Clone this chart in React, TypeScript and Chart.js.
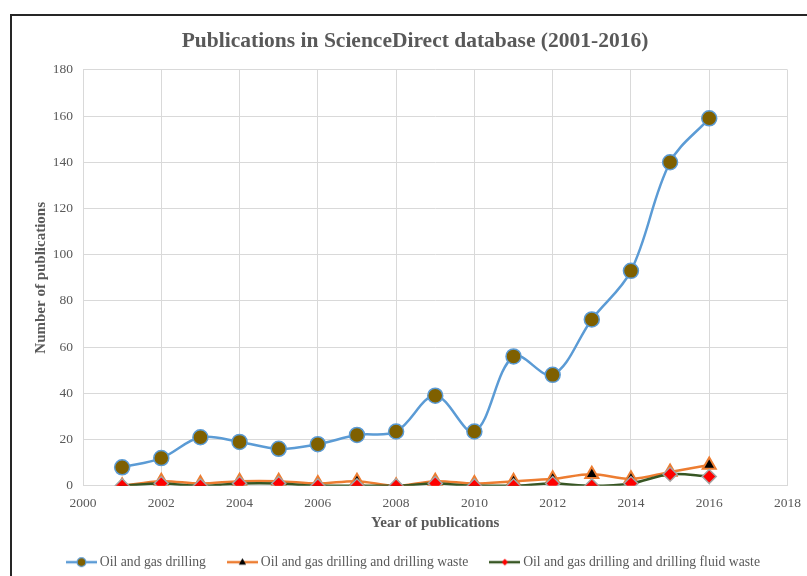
import React, { useEffect, useRef } from "react";
import { Chart, registerables } from "chart.js";

Chart.register(...registerables);

const years = [2001, 2002, 2003, 2004, 2005, 2006, 2007, 2008, 2009, 2010, 2011, 2012, 2013, 2014, 2015, 2016];
const oilGasDrilling = [8, 12, 21, 19, 16, 18, 22, 23.5, 39, 23.5, 56, 48, 72, 93, 140, 159];
const drillingWaste = [0, 2, 1, 2, 2, 1, 2, 0, 2, 1, 2, 3, 5, 3, 6, 9];
const drillingFluidWaste = [0, 1, 0, 1, 1, 0, 0, 0, 1, 0, 0, 1, 0, 1, 5, 4];
const seriesNames = [
  "Oil and gas drilling",
  "Oil and gas drilling and drilling waste",
  "Oil and gas drilling and drilling fluid waste",
];
const chartTitle = "Publications in ScienceDirect database (2001-2016)";
const xTitle = "Year of publications";
const yTitle = "Number of publications";
const xMin = 2000;
const xMax = 2018;
const xStep = 2;
const yMin = 0;
const yMax = 180;
const yStep = 20;

const FONT = "'Liberation Serif', 'Times New Roman', serif";
const TEXT = "#595959";
const BLUE = "#5b9bd5";
const ORANGE = "#ed7d31";
const GREEN = "#375623";

function makeIcon(kind: number): HTMLCanvasElement {
  const c = document.createElement("canvas");
  c.width = 31;
  c.height = 14;
  const ctx = c.getContext("2d")!;
  const cy = 7;
  const cx = 15.5;
  ctx.lineWidth = 2.5;
  ctx.strokeStyle = kind === 0 ? BLUE : kind === 1 ? ORANGE : GREEN;
  ctx.beginPath();
  ctx.moveTo(0, cy);
  ctx.lineTo(31, cy);
  ctx.stroke();
  if (kind === 0) {
    ctx.beginPath();
    ctx.arc(cx, cy, 4.4, 0, Math.PI * 2);
    ctx.fillStyle = "#7f6000";
    ctx.fill();
    ctx.lineWidth = 1.2;
    ctx.strokeStyle = BLUE;
    ctx.stroke();
  } else if (kind === 1) {
    ctx.beginPath();
    ctx.moveTo(cx, cy - 4);
    ctx.lineTo(cx + 3.6, cy + 2.5);
    ctx.lineTo(cx - 3.6, cy + 2.5);
    ctx.closePath();
    ctx.fillStyle = "#000";
    ctx.fill();
  } else {
    ctx.beginPath();
    ctx.moveTo(cx, cy - 3.5);
    ctx.lineTo(cx + 3, cy);
    ctx.lineTo(cx, cy + 3.5);
    ctx.lineTo(cx - 3, cy);
    ctx.closePath();
    ctx.fillStyle = "#ff0000";
    ctx.fill();
  }
  return c;
}

export default function App() {
  const ref = useRef<HTMLCanvasElement>(null);

  useEffect(() => {
    const canvas = ref.current;
    if (!canvas) return;
    const icons = [makeIcon(0), makeIcon(1), makeIcon(2)];
    const toPts = (vals: number[]) => years.map((y, i) => ({ x: y, y: vals[i] }));

    const chart = new Chart(canvas, {
      type: "line",
      data: {
        datasets: [
          {
            label: seriesNames[0],
            data: toPts(oilGasDrilling),
            borderColor: BLUE,
            borderWidth: 2.5,
            backgroundColor: "#7f6000",
            pointBackgroundColor: "#7f6000",
            pointBorderColor: BLUE,
            pointBorderWidth: 1.5,
            pointRadius: 7.5,
            pointStyle: "circle",
            tension: 0.35,
            order: 2,
          },
          {
            label: seriesNames[1],
            data: toPts(drillingWaste),
            borderColor: ORANGE,
            borderWidth: 2.5,
            backgroundColor: "#000",
            pointBackgroundColor: "#000",
            pointBorderColor: ORANGE,
            pointBorderWidth: 2,
            pointRadius: 7.5,
            pointStyle: "triangle",
            tension: 0.35,
            order: 1,
          },
          {
            label: seriesNames[2],
            data: toPts(drillingFluidWaste),
            borderColor: GREEN,
            borderWidth: 2.5,
            backgroundColor: "#ff0000",
            pointBackgroundColor: "#ff0000",
            pointBorderColor: "#a5a5a5",
            pointBorderWidth: 1.5,
            pointRadius: 7,
            pointStyle: "rectRot",
            tension: 0.35,
            order: 0,
          },
        ],
      },
      options: {
        responsive: false,
        animation: false,
        layout: { padding: { left: 16, right: 9, top: 0, bottom: 0 } },
        plugins: {
          tooltip: { enabled: false },
          title: {
            display: true,
            text: chartTitle,
            color: TEXT,
            font: { family: FONT, size: 21.5, weight: "bold" },
            padding: { top: 13, bottom: 15 },
          },
          legend: {
            position: "bottom",
            labels: {
              usePointStyle: true,
              pointStyleWidth: 23,
              padding: 25,
              color: TEXT,
              font: { family: FONT, size: 13.7 },
              generateLabels: (ch: any) =>
                seriesNames.map((name, i) => ({
                  text: name,
                  pointStyle: icons[i],
                  fillStyle: "transparent",
                  strokeStyle: "transparent",
                  lineWidth: 0,
                  fontColor: TEXT,
                  hidden: !ch.isDatasetVisible(i),
                  datasetIndex: i,
                })),
            },
          },
        },
        scales: {
          x: {
            type: "linear",
            min: xMin,
            max: xMax,
            afterFit: (scale: any) => {
              scale.height = 44.5;
            },
            ticks: {
              stepSize: xStep,
              color: TEXT,
              font: { family: FONT, size: 13.5 },
              padding: 10,
              callback: (v: any) => String(v),
            },
            grid: { color: "#d9d9d9", drawTicks: false, lineWidth: 1 },
            border: { display: true, color: "#d9d9d9" },
            title: {
              display: true,
              text: xTitle,
              color: TEXT,
              font: { family: FONT, size: 15, weight: "bold", lineHeight: 1 },
              padding: { top: 2, bottom: 0 },
            },
          },
          y: {
            type: "linear",
            min: yMin,
            max: yMax,
            afterFit: (scale: any) => {
              scale.width = 55;
            },
            ticks: {
              stepSize: yStep,
              color: TEXT,
              font: { family: FONT, size: 13.5 },
              padding: 10,
            },
            grid: { color: "#d9d9d9", drawTicks: false, lineWidth: 1 },
            border: { display: true, color: "#d9d9d9" },
            title: {
              display: true,
              text: yTitle,
              color: TEXT,
              font: { family: FONT, size: 15, weight: "bold" },
              padding: { top: 4, bottom: 2 },
            },
          },
        },
      },
    });
    return () => chart.destroy();
  }, []);

  return (
    <div
      style={{
        position: "fixed",
        left: 10,
        top: 14,
        right: 0,
        bottom: 0,
        overflow: "hidden",
        borderLeft: "2px solid #262626",
        borderTop: "2px solid #262626",
        background: "#fff",
      }}
    >
      <canvas
        ref={ref}
        width={799}
        height={563}
        style={{ position: "absolute", left: 0, top: 0, width: 799, height: 563 }}
      />
    </div>
  );
}
